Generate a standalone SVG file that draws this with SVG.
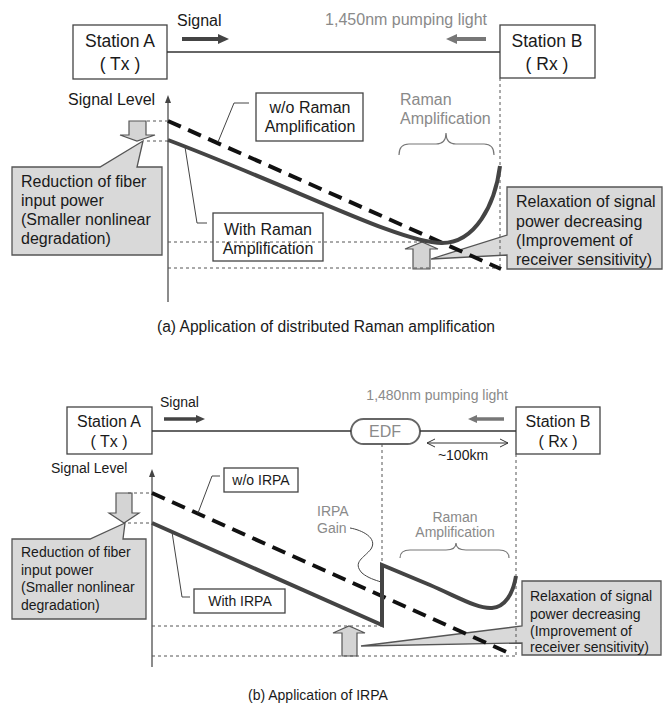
<svg xmlns="http://www.w3.org/2000/svg" width="663" height="705" viewBox="0 0 663 705">
<style>
text{font-family:"Liberation Sans",Arial,sans-serif;fill:#1a1a1a}
.a{font-size:16px}
.b{font-size:14px}
.st{font-size:17.5px}
.stb{font-size:16px}
.g{fill:#8a8a8a}
.box{fill:#fff;stroke:#444;stroke-width:1.3}
.call{fill:#d9d9d9;stroke:#555;stroke-width:1.3}
.arr{fill:#d4d4d4;stroke:#555;stroke-width:1.2}
.fiber{stroke:#333;stroke-width:1.3;fill:none}
.dot{stroke:#555;stroke-width:1;stroke-dasharray:3 3;fill:none}
.dash{stroke:#111;stroke-width:4;stroke-dasharray:14 8;fill:none}
.sol{stroke:#444;stroke-width:4;fill:none;stroke-linejoin:miter}
.lead{stroke:#444;stroke-width:1;fill:none}
.axis{stroke:#666;stroke-width:1.5}
.brace{stroke:#777;stroke-width:1.2;fill:none}
</style>

<!-- ===== Panel (a) ===== -->
<g id="a-stationA">
<rect class="box" x="73" y="25" width="94" height="54"/>
<text class="st" x="120" y="47" text-anchor="middle">Station A</text>
<text class="st" x="120" y="70" text-anchor="middle">( Tx )</text>
</g>
<g id="a-stationB">
<rect class="box" x="500" y="25" width="95" height="53"/>
<text class="st" x="547" y="47" text-anchor="middle">Station B</text>
<text class="st" x="547" y="70" text-anchor="middle">( Rx )</text>
</g>
<g id="a-signal">
<text class="a" x="177" y="26">Signal</text>
<line x1="182" y1="39" x2="220" y2="39" stroke="#444" stroke-width="4"/>
<polygon points="218,34 229,39 218,44" fill="#444"/>
</g>
<g id="a-pump">
<text class="a g" x="487" y="25" text-anchor="end">1,450nm pumping light</text>
<line x1="486" y1="39" x2="455" y2="39" stroke="#777" stroke-width="4"/>
<polygon points="457,34 446,39 457,44" fill="#777"/>
</g>
<g id="a-axis">
<line class="axis" x1="168" y1="100" x2="168" y2="302"/>
<polygon points="168,95 165,103 171,103" fill="#444"/>
<text class="a" x="68" y="105">Signal Level</text>
</g>
<g id="a-wo">
<rect class="box" x="256" y="93" width="107" height="48"/>
<text class="a" x="310" y="113" text-anchor="middle">w/o Raman</text>
<text class="a" x="310" y="132" text-anchor="middle">Amplification</text>
</g>
<g id="a-with">
<rect class="box" x="213" y="213" width="110" height="48"/>
<text class="a" x="268" y="235" text-anchor="middle">With Raman</text>
<text class="a" x="268" y="254" text-anchor="middle">Amplification</text>
</g>
<g id="a-raman">
<text class="a g" x="400" y="105">Raman</text>
<text class="a g" x="400" y="124">Amplification</text>
<path class="brace" d="M399,155 Q399,144 409,144 L436,144 Q446,144 446,133 Q446,144 456,144 L484,144 Q494,144 494,155"/>
</g>
<g id="a-reduction">
<polygon class="arr" points="129,121 146,121 146,135 155,135 137,141 120,135 129,135"/>
<path class="call" d="M12,167 L100,167 L143,141 L137,167 L162,167 L162,255 L12,255 Z"/>
<text class="a" x="21" y="187">Reduction of fiber</text>
<text class="a" x="21" y="206">input power</text>
<text class="a" x="21" y="225">(Smaller nonlinear</text>
<text class="a" x="21" y="244">degradation)</text>
</g>
<g id="a-relaxation">
<polygon class="arr" points="413,269 430,269 430,249 438,249 422,242 405,249 413,249"/>
<path class="call" d="M507,187 L662,187 L662,269 L507,269 L507,255 L431,259 L507,235 Z"/>
<text class="a" x="516" y="207">Relaxation of signal</text>
<text class="a" x="516" y="227">power decreasing</text>
<text class="a" x="516" y="246">(Improvement of</text>
<text class="a" x="516" y="265">receiver sensitivity)</text>
</g>
<text id="a-caption" x="157" y="332" style="font-size:15.6px">(a)  Application of distributed Raman amplification</text>

<!-- ===== Panel (b) ===== -->
<g id="b-stationA">
<rect class="box" x="67" y="407" width="85" height="47"/>
<text class="stb" x="109" y="427" text-anchor="middle">Station A</text>
<text class="stb" x="109" y="447" text-anchor="middle">( Tx )</text>
</g>
<g id="b-stationB">
<rect class="box" x="516" y="407" width="84" height="47"/>
<text class="stb" x="558" y="427" text-anchor="middle">Station B</text>
<text class="stb" x="558" y="447" text-anchor="middle">( Rx )</text>
</g>
<g id="b-edf">
<rect x="351" y="419" width="69" height="25" rx="12.5" fill="#fff" stroke="#666" stroke-width="2"/>
<text class="stb g" x="385" y="437" text-anchor="middle">EDF</text>
</g>
<g id="b-signal">
<text class="b" x="160" y="407">Signal</text>
<line x1="164" y1="419" x2="197" y2="419" stroke="#444" stroke-width="3.5"/>
<polygon points="196,415 205,419 196,423" fill="#444"/>
</g>
<g id="b-pump">
<text class="b g" x="508" y="400" text-anchor="end">1,480nm pumping light</text>
<line x1="504" y1="419" x2="476" y2="419" stroke="#777" stroke-width="3.5"/>
<polygon points="477,415 468,419 477,423" fill="#777"/>
</g>
<g id="b-distance">
<line x1="427" y1="443" x2="508" y2="443" stroke="#333" stroke-width="1"/>
<polyline points="435,439 427,443 435,447" fill="none" stroke="#333" stroke-width="1"/>
<polyline points="500,439 508,443 500,447" fill="none" stroke="#333" stroke-width="1"/>
<text class="b" x="463" y="460" text-anchor="middle">~100km</text>
</g>
<g id="b-axis">
<line class="axis" x1="152" y1="474" x2="152" y2="667"/>
<polygon points="152,469 149,477 155,477" fill="#444"/>
<text class="b" x="51" y="473">Signal Level</text>
</g>
<g id="b-wo">
<rect class="box" x="224" y="468" width="74" height="24"/>
<text class="b" x="261" y="485" text-anchor="middle">w/o IRPA</text>
</g>
<g id="b-with">
<rect class="box" x="194" y="589" width="91" height="24"/>
<text class="b" x="240" y="606" text-anchor="middle">With IRPA</text>
</g>
<g id="b-gain">
<text class="b g" x="317" y="516">IRPA</text>
<text class="b g" x="317" y="533">Gain</text>
</g>
<g id="b-raman">
<text class="b g" x="455" y="522" text-anchor="middle">Raman</text>
<text class="b g" x="455" y="537" text-anchor="middle">Amplification</text>
<path class="brace" d="M400,558 Q400,550 410,550 L446,550 Q456,550 456,543 Q456,550 466,550 L499,550 Q509,550 509,558"/>
</g>
<g id="b-reduction">
<polygon class="arr" points="116,493 132,493 132,513 139,513 124,523 109,513 116,513"/>
<path class="call" d="M12,539 L90,539 L125,523 L123,539 L146,539 L146,619 L12,619 Z"/>
<text class="b" x="21" y="557">Reduction of fiber</text>
<text class="b" x="21" y="575">input power</text>
<text class="b" x="21" y="592">(Smaller nonlinear</text>
<text class="b" x="21" y="610">degradation)</text>
</g>
<g id="b-relaxation">
<polygon class="arr" points="342,656 357,656 357,633 365,633 349,626 333,633 342,633"/>
<path class="call" d="M522,581 L661,581 L661,655 L522,655 L522,643 L361,646 L522,626 Z"/>
<text class="b" x="530" y="601">Relaxation of signal</text>
<text class="b" x="530" y="619">power decreasing</text>
<text class="b" x="530" y="636">(Improvement of</text>
<text class="b" x="530" y="652">receiver sensitivity)</text>
</g>
<text id="b-caption" class="b" x="248" y="700">(b) Application of IRPA</text>

<!-- ===== Connectors ===== -->
<g id="connectors">
<!-- panel (a) -->
<line class="fiber" x1="167" y1="52" x2="500" y2="52"/>
<line class="dot" x1="500" y1="78" x2="500" y2="268"/>
<line class="dot" x1="147" y1="121" x2="168" y2="121"/>
<line class="dot" x1="147" y1="141" x2="168" y2="141"/>
<line class="dot" x1="168" y1="242" x2="440" y2="242"/>
<line class="dot" x1="168" y1="268" x2="500" y2="268"/>
<path class="dash" d="M168,121 L501,269"/>
<path class="sol" d="M168,140 C300,190 400,243 442,243 C475,243 495,205 500,166"/>
<polyline class="lead" points="249,103 234,103 218,142"/>
<polyline class="lead" points="185,147 197,223 207,223"/>
<!-- panel (b) -->
<line class="fiber" x1="152" y1="431" x2="351" y2="431"/>
<line class="fiber" x1="420" y1="431" x2="516" y2="431"/>
<line class="dot" x1="382" y1="444" x2="382" y2="565"/>
<line class="dot" x1="516" y1="454" x2="516" y2="656"/>
<line class="dot" x1="128" y1="493" x2="152" y2="493"/>
<line class="dot" x1="128" y1="523" x2="152" y2="523"/>
<line class="dot" x1="152" y1="626" x2="382" y2="626"/>
<line class="dot" x1="152" y1="656" x2="516" y2="656"/>
<path class="dash" d="M152,493 L511,654"/>
<path class="sol" d="M152,523 L382,625 L382,565 L430,585 C460,598 478,609 492,608 C505,607 513,594 516,576"/>
<polyline class="lead" points="220,476 212,476 198,513"/>
<polyline class="lead" points="172,532 182,597 190,597"/>
<path class="lead" d="M350,528 C362,530 378,538 371,549 C364,558 352,562 362,573 C368,578 375,580 381,582"/>
</g>
</svg>
